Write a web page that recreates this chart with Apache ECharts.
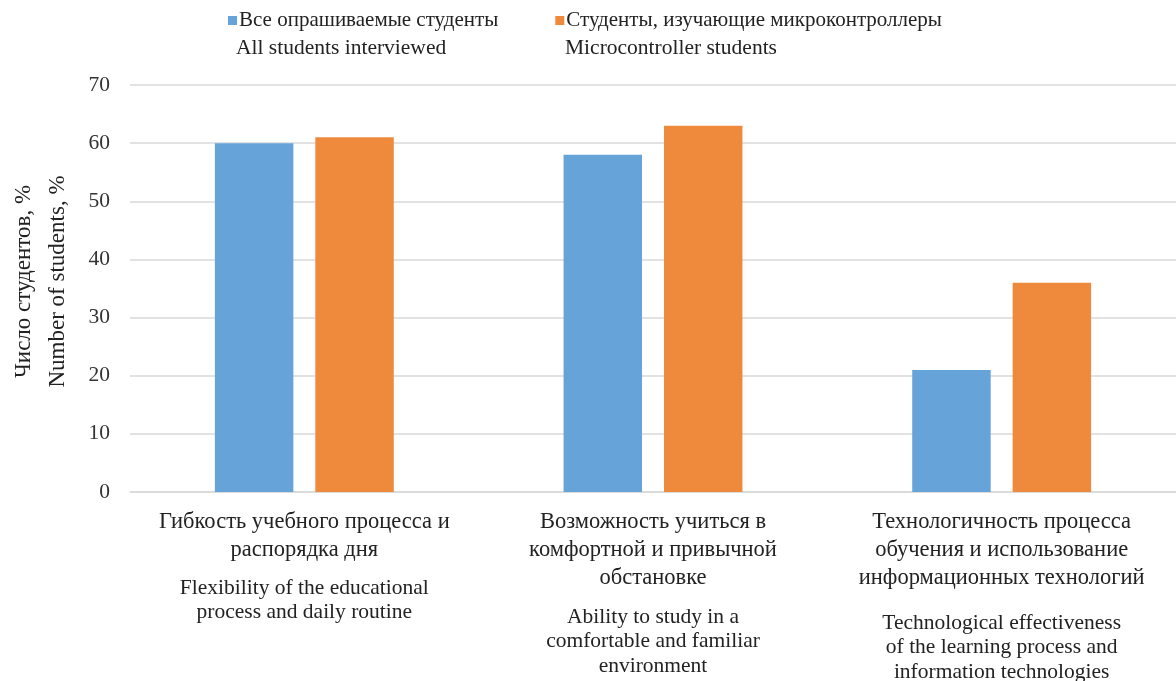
<!DOCTYPE html>
<html>
<head>
<meta charset="utf-8">
<script src="https://cdn.jsdelivr.net/npm/echarts@6/dist/echarts.min.js"></script>
<style>html,body{margin:0;padding:0;background:#fff}#c{width:1176px;height:681px}</style>
</head>
<body>
<div id="c"></div>
<script>
const categoriesRu = [
  'Гибкость учебного процесса и\nраспорядка дня',
  'Возможность учиться в\nкомфортной и привычной\nобстановке',
  'Технологичность процесса\nобучения и использование\nинформационных технологий'
];
const categoriesEn = [
  'Flexibility of the educational\nprocess and daily routine',
  'Ability to study in a\ncomfortable and familiar\nenvironment',
  'Technological effectiveness\nof the learning process and\ninformation technologies'
];
const seriesNamesRu = ['Все опрашиваемые студенты', 'Студенты, изучающие микроконтроллеры'];
const seriesNamesEn = ['All students interviewed', 'Microcontroller students'];
const allStudents = [60, 58, 21];
const mcuStudents = [61, 63, 36];
const yTicks = [0, 10, 20, 30, 40, 50, 60, 70];
const yAxisTitle = ['Число студентов, %', 'Number of students, %'];

const FONT = '"Liberation Serif", "Times New Roman", serif';
const chart = echarts.init(document.getElementById('c'));
const gaps = ['gapA', 'gapB', 'gapC'];
chart.setOption({
  animation: false,
  textStyle: { fontFamily: FONT, color: '#222' },
  legend: {
    top: 5, left: 223,
    itemWidth: 9, itemHeight: 9, itemGap: 57,
    icon: 'rect',
    textStyle: { fontFamily: FONT, fontSize: 21, color: '#222', padding: [0, 0, 0, -3] },
    data: seriesNamesRu
  },
  graphic: [
    { type: 'text', left: 236, top: 37, style: { text: seriesNamesEn[0], font: '21.5px ' + FONT, fill: '#222' } },
    { type: 'text', left: 565, top: 37, style: { text: seriesNamesEn[1], font: '21.5px ' + FONT, fill: '#222' } }
  ],
  grid: { left: 130, right: 0, top: 85, bottom: 189, outerBoundsMode: 'none', containLabel: false },
  xAxis: {
    type: 'category',
    data: categoriesRu.map((r, i) => ({ value: String(i) })),
    axisLine: { show: true, lineStyle: { color: '#d9d9d9', width: 1.5 } },
    axisTick: { show: false },
    axisLabel: {
      interval: 0, margin: 16,
      formatter: (v) => {
        const i = +v;
        const ru = categoriesRu[i].split('\n').map(s => '{ru|' + s + '}').join('\n');
        const en = categoriesEn[i].split('\n').map(s => '{en|' + s + '}').join('\n');
        return ru + '\n{' + gaps[i] + '|}\n' + en;
      },
      rich: {
        ru: { fontFamily: FONT, fontSize: 22.5, lineHeight: 28, color: '#222' },
        en: { fontFamily: FONT, fontSize: 21.5, lineHeight: 24.5, color: '#222' },
        gapA: { lineHeight: 12 },
        gapB: { lineHeight: 13 },
        gapC: { lineHeight: 19 }
      }
    }
  },
  yAxis: {
    type: 'value', min: 0, max: 70, interval: 10,
    name: yAxisTitle.join('\n'),
    nameLocation: 'middle', nameRotate: 90, nameGap: 55,
    nameTextStyle: { fontFamily: FONT, fontSize: 23, lineHeight: 34, color: '#222', padding: [0, 0, 0, 14] },
    axisLine: { show: false }, axisTick: { show: false },
    axisLabel: {
      margin: 20, fontFamily: FONT, fontSize: 21.5, color: '#333',
      formatter: (v) => yTicks.includes(v) ? String(v) : ''
    },
    splitLine: { lineStyle: { color: '#d9d9d9', width: 1.5 } }
  },
  series: [
    { name: seriesNamesRu[0], type: 'bar', data: allStudents, barWidth: '22.5%', barGap: '28%', itemStyle: { color: '#65a3d8' } },
    { name: seriesNamesRu[1], type: 'bar', data: mcuStudents, barWidth: '22.5%', barGap: '28%', itemStyle: { color: '#ef8a3c' } }
  ]
});
</script>
</body>
</html>
